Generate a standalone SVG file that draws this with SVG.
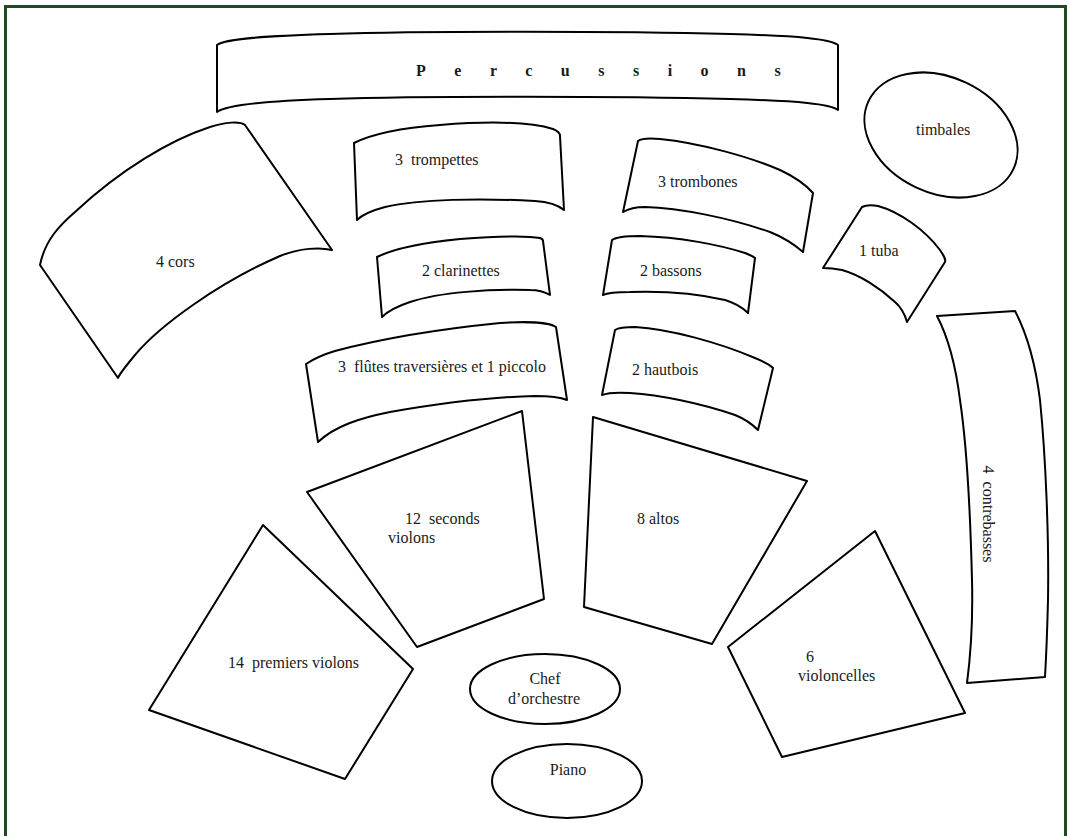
<svg xmlns="http://www.w3.org/2000/svg" width="1070" height="836" viewBox="0 0 1070 836">
<style>
.s{fill:#fff;stroke:#000;stroke-width:2;stroke-linejoin:round}
.t{font-family:"Liberation Serif","Times New Roman",serif;font-size:16px;fill:#1a1a1a;white-space:pre}
.c{text-anchor:middle}
.b{font-weight:bold;letter-spacing:28.5px}
</style>
<rect x="0" y="0" width="1070" height="836" fill="#fff"/>
<rect x="5.5" y="6.5" width="1060" height="860" fill="none" stroke="#1f4a1f" stroke-width="3"/>
<g id="connectors"/>
<g id="percussions">
<path class="s" d="M217,45 C225,39 260,36 330,34 C420,31 620,31 730,34 C800,36 830,39 838,45 L838,110 C830,104 800,101 730,99 C620,96 420,96 330,99 C260,101 225,106 217,112 Z"/>
<text class="t b" x="416" y="76">Percussions</text>
</g>
<g id="cors">
<path class="s" d="M40,265 C45,240 60,225 75,212 C120,170 170,140 210,127 C225,122 240,121 245,125 L332,250 C320,247 300,248 280,256 C220,282 160,325 135,355 C125,367 120,373 118,378 Z"/>
<text class="t" x="156" y="267">4 cors</text>
</g>
<g id="trompettes">
<path class="s" d="M354,143 C370,135 400,128 440,125 C490,121 530,122 553,129 C558,131 560,133 560,136 L564,210 C558,205 550,202 535,201 C480,198 420,199 385,207 C370,211 362,215 357,220 Z"/>
<text class="t" x="395" y="165">3  trompettes</text>
</g>
<g id="trombones">
<path class="s" d="M638,141 C642,138 650,138 660,139 C700,143 750,157 780,170 C795,177 805,184 813,193 L803,252 C795,245 785,238 770,232 C730,218 680,208 645,207 C635,207 628,209 623,212 Z"/>
<text class="t" x="658" y="187">3 trombones</text>
</g>
<g id="clarinettes">
<path class="s" d="M377,257 C395,248 420,243 460,239 C500,236 530,236 540,238 C543,239 543,240 543,241 L550,295 C545,292 540,290 530,290 C490,289 440,292 410,302 C395,307 387,312 382,317 Z"/>
<text class="t" x="422" y="276">2 clarinettes</text>
</g>
<g id="bassons">
<path class="s" d="M612,240 C616,237 625,236 640,236 C680,237 720,245 745,253 C750,255 753,256 755,258 L748,313 C742,307 735,303 725,300 C695,293 660,291 630,292 C615,292 607,293 603,295 Z"/>
<text class="t" x="640" y="276">2 bassons</text>
</g>
<g id="timbales">
<ellipse class="s" cx="941" cy="135" rx="80" ry="58" transform="rotate(25 941 135)"/>
<text class="t" x="916" y="135">timbales</text>
</g>
<g id="tuba">
<path class="s" d="M862,207 C866,205 872,205 878,206 C900,212 925,230 940,250 C944,256 946,259 945,262 L907,322 C905,315 902,308 895,302 C880,288 860,275 842,270 C832,268 828,268 823,268 Z"/>
<text class="t" x="859" y="256">1 tuba</text>
</g>
<g id="contrebasses">
<path class="s" d="M937,316 L1015,311 C1025,330 1035,360 1040,400 C1046,460 1049,540 1048,600 C1047,640 1046,660 1045,677 L967,683 C970,660 973,620 972,580 C970,500 966,440 960,400 C955,360 947,335 937,316 Z"/>
<text class="t c" transform="translate(983 514) rotate(90)">4  contrebasses</text>
</g>
<g id="flutes">
<path class="s" d="M306,364 C315,358 325,354 335,351 C380,339 440,329 500,323 C530,321 550,323 556,327 L567,400 C560,397 550,396 535,396 C490,397 430,405 390,412 C360,418 335,426 318,442 Z"/>
<text class="t" x="338" y="372">3  flûtes traversières et 1 piccolo</text>
</g>
<g id="hautbois">
<path class="s" d="M615,330 C618,328 625,327 635,327 C670,329 720,343 755,358 C765,362 770,365 773,368 L758,430 C752,424 745,419 735,415 C700,403 660,395 630,393 C615,392 607,393 602,395 Z"/>
<text class="t" x="632" y="375">2 hautbois</text>
</g>
<g id="seconds-violons">
<polygon class="s" points="522,411 544,599 417,647 307,492"/>
<text class="t" x="405" y="524">12  seconds</text>
<text class="t" x="388" y="543">violons</text>
</g>
<g id="altos">
<polygon class="s" points="593,417 807,481 712,644 584,607"/>
<text class="t" x="637" y="524">8 altos</text>
</g>
<g id="premiers-violons">
<polygon class="s" points="263,525 413,669 345,779 149,710"/>
<text class="t" x="228" y="668">14  premiers violons</text>
</g>
<g id="violoncelles">
<polygon class="s" points="875,531 965,713 782,757 728,647"/>
<text class="t" x="806" y="662">6</text>
<text class="t" x="798" y="681">violoncelles</text>
</g>
<g id="chef">
<ellipse class="s" cx="545" cy="689" rx="75" ry="35"/>
<text class="t c" x="545" y="684">Chef</text>
<text class="t c" x="544" y="704">d’orchestre</text>
</g>
<g id="piano">
<ellipse class="s" cx="567" cy="781" rx="75" ry="37"/>
<text class="t c" x="568" y="775">Piano</text>
</g>
</svg>
